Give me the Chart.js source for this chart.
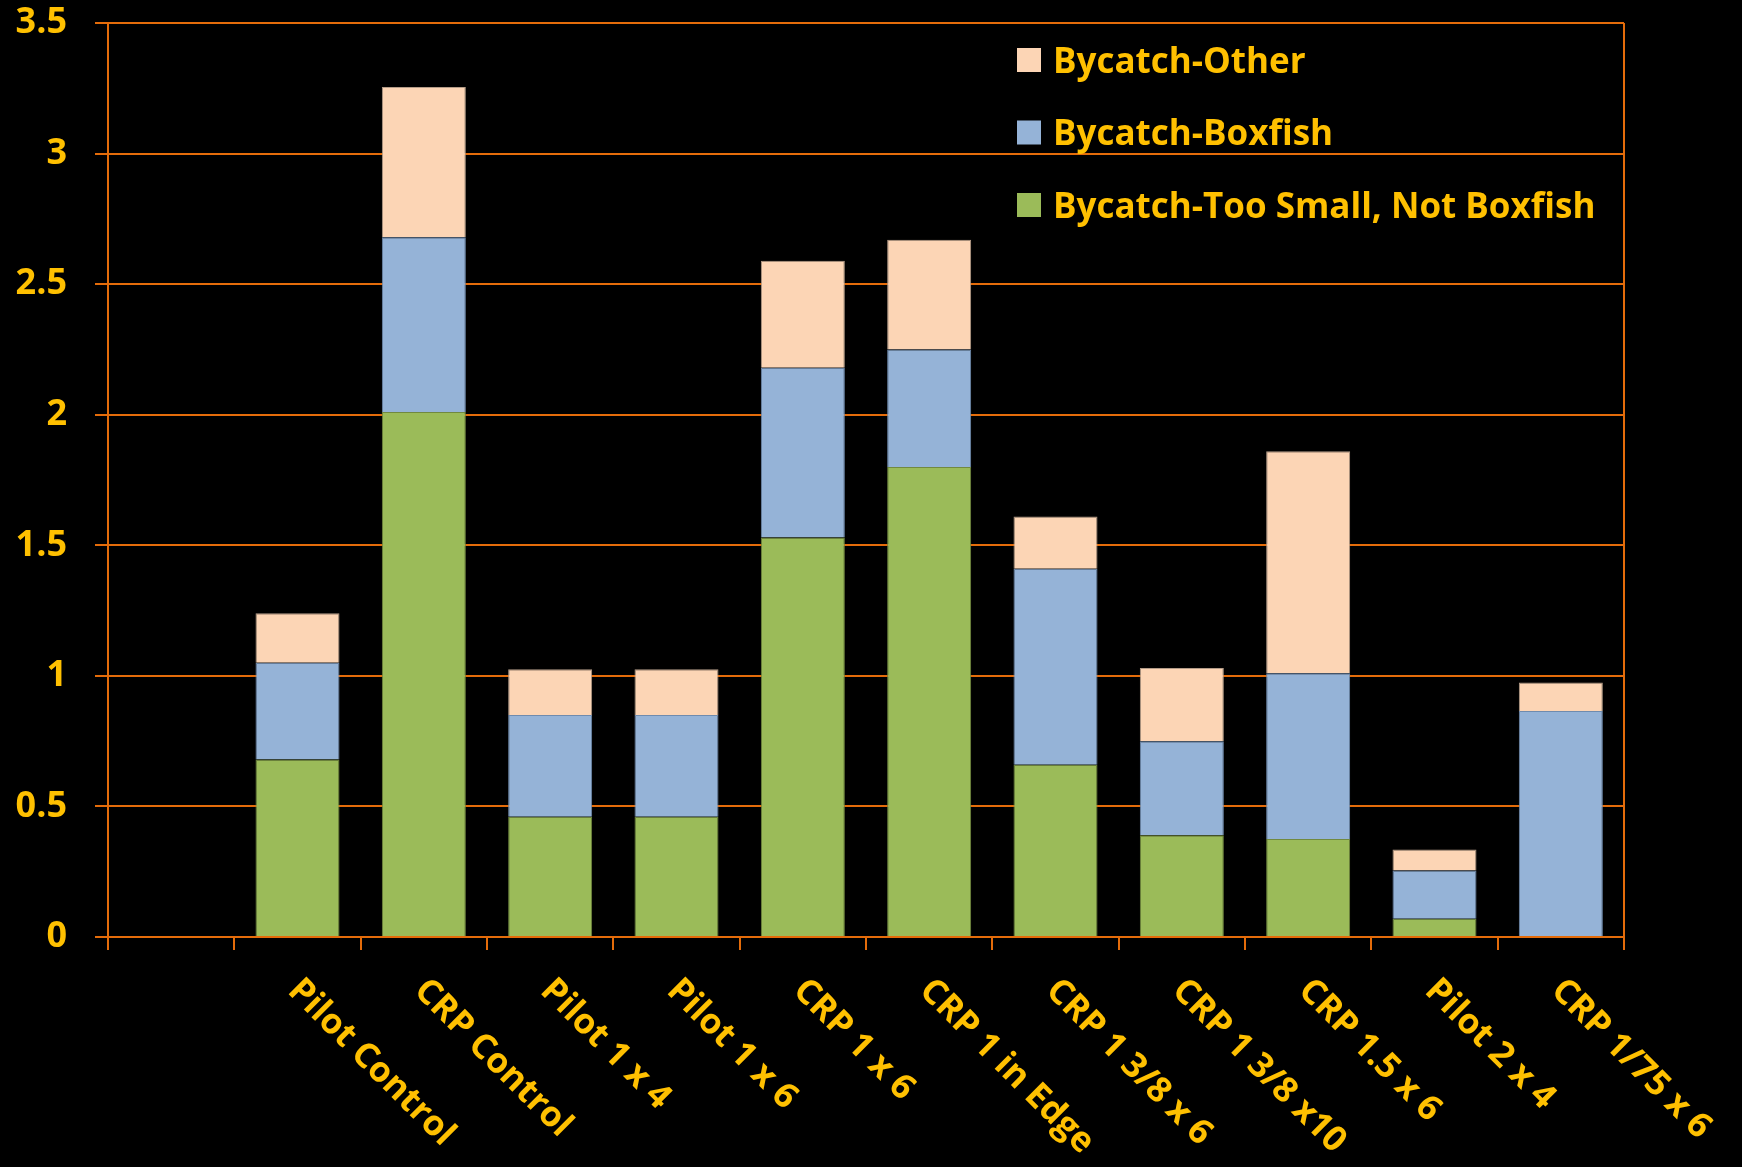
<!DOCTYPE html>
<html>
<head>
<meta charset="utf-8">
<script src="https://cdn.jsdelivr.net/npm/chart.js@4.4.1/dist/chart.umd.min.js"></script>
<style>
  html, body { margin: 0; padding: 0; background: #000; }
  #wrap { width: 1742px; height: 1167px; }
</style>
</head>
<body>
<div id="wrap"><canvas id="c" width="1742" height="1167"></canvas></div>
<script>
const categories = ["", "Pilot Control", "CRP Control", "Pilot 1 x 4", "Pilot 1 x 6", "CRP 1 x 6", "CRP 1 in Edge", "CRP 1 3/8 x 6", "CRP 1 3/8 x10", "CRP 1.5 x 6", "Pilot 2 x 4", "CRP 1/75 x 6"];
const tooSmall = [null, 0.68, 2.01, 0.46, 0.46, 1.53, 1.80, 0.66, 0.39, 0.375, 0.07, 0];
const boxfish  = [null, 0.37, 0.67, 0.39, 0.39, 0.65, 0.45, 0.75, 0.36, 0.635, 0.185, 0.865];
const other    = [null, 0.19, 0.575, 0.175, 0.175, 0.41, 0.42, 0.20, 0.28, 0.85, 0.08, 0.11];
const yTicks = [0, 0.5, 1, 1.5, 2, 2.5, 3, 3.5];

const ORANGE = '#E46C0A';
const GOLD = '#FFC000';
const FONT = '"Open Sans"';

const legendPlugin = {
  id: 'insideLegend',
  afterDraw(chart) {
    const { ctx, chartArea } = chart;
    const items = chart.data.datasets.slice().reverse();
    ctx.save();
    ctx.font = 'bold 35px ' + FONT;
    ctx.textAlign = 'left';
    ctx.textBaseline = 'alphabetic';
    items.forEach((ds, i) => {
      const cy = chartArea.top + 37 + i * 72.5;
      const x = chartArea.left + 909;
      ctx.fillStyle = ds.backgroundColor;
      ctx.fillRect(x, cy - 12, 24, 24);
      ctx.fillStyle = GOLD;
      ctx.fillText(ds.label, x + 36, cy + 12.5);
    });
    ctx.restore();
  }
};

const xLabelPlugin = {
  id: 'diagLabels',
  afterDraw(chart) {
    const { ctx, chartArea } = chart;
    const xs = chart.scales.x;
    ctx.save();
    ctx.font = 'bold 35px ' + FONT;
    ctx.fillStyle = GOLD;
    ctx.textAlign = 'left';
    ctx.textBaseline = 'middle';
    categories.forEach((lab, i) => {
      if (!lab) return;
      const x = xs.getPixelForTick(i) - 4;
      const y = chartArea.bottom + 48;
      ctx.save();
      ctx.translate(x, y);
      ctx.rotate(Math.PI / 4);
      ctx.fillText(lab, 0, 0);
      ctx.restore();
    });
    ctx.restore();
  }
};

new Chart(document.getElementById('c'), {
  type: 'bar',
  data: {
    labels: categories,
    datasets: [
      { label: 'Bycatch-Too Small, Not Boxfish', data: tooSmall, backgroundColor: '#9BBB59', borderColor: '#71893F', borderWidth: 1 },
      { label: 'Bycatch-Boxfish', data: boxfish, backgroundColor: '#95B3D7', borderColor: '#6F8BAE', borderWidth: 1 },
      { label: 'Bycatch-Other', data: other, backgroundColor: '#FCD5B5', borderColor: '#B49C88', borderWidth: 1 }
    ]
  },
  options: {
    responsive: false,
    animation: false,
    devicePixelRatio: 1,
    layout: { padding: { top: 23, right: 118, left: 0, bottom: 0 } },
    datasets: { bar: { categoryPercentage: 1.0, barPercentage: 0.665 } },
    plugins: { legend: { display: false }, tooltip: { enabled: false } },
    scales: {
      x: {
        stacked: true,
        grid: {
          offset: true,
          drawOnChartArea: true,
          color: (c) => (c.type === 'tick' ? 'rgba(0,0,0,0)' : ORANGE),
          tickColor: ORANGE,
          tickLength: 13,
          lineWidth: 2
        },
        border: { color: ORANGE, width: 2 },
        ticks: { display: false },
        afterFit: (s) => { s.height = 230; }
      },
      y: {
        stacked: true,
        min: 0,
        max: 3.5,
        afterBuildTicks: (s) => { s.ticks = yTicks.map(v => ({ value: v })); },
        ticks: {
          color: GOLD,
          font: { family: 'Open Sans', weight: 'bold', size: 36 },
          padding: 28,
          callback: (v) => String(v)
        },
        grid: { color: ORANGE, tickColor: ORANGE, tickLength: 13, lineWidth: 2 },
        border: { color: ORANGE, width: 2 },
        afterFit: (s) => { s.width = 108; s.paddingTop = 0; s.paddingBottom = 0; }
      }
    }
  },
  plugins: [legendPlugin, xLabelPlugin]
});
</script>
</body>
</html>
